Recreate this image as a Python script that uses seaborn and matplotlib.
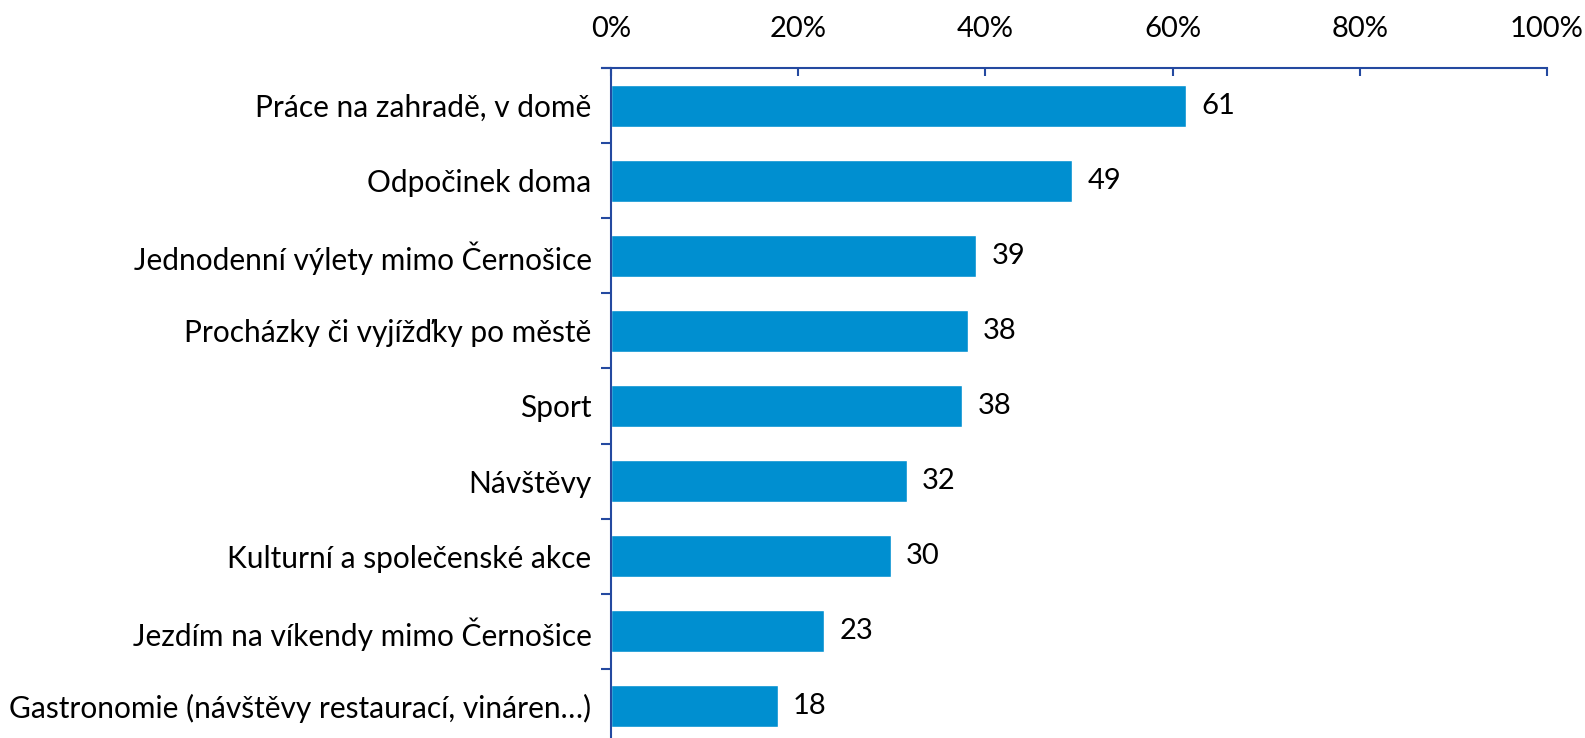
import numpy as np
import pandas as pd
import matplotlib
matplotlib.use("Agg")
import matplotlib.pyplot as plt
import seaborn as sns
from matplotlib.ticker import FixedLocator, PercentFormatter

# Données
categories = [
    "Práce na zahradě, v domě",
    "Odpočinek doma",
    "Jednodenní výlety mimo Černošice",
    "Procházky či vyjížďky po městě",
    "Sport",
    "Návštěvy",
    "Kulturní a společenské akce",
    "Jezdím na víkendy mimo Černošice",
    "Gastronomie (návštěvy restaurací, vináren…)",
]
values = [61.4, 49.3, 39.0, 38.1, 37.5, 31.6, 29.9, 22.8, 17.8]
x_ticks = [0, 20, 40, 60, 80, 100]

bar_color = "#008FD0"
axis_color = "#2449A0"

sns.set_style("white")
plt.rcParams['font.family'] = ['Lato', 'DejaVu Sans']
plt.rcParams['text.color'] = 'black'
plt.rcParams['xtick.labelcolor'] = 'black'
plt.rcParams['ytick.labelcolor'] = 'black'

df = pd.DataFrame({"cat": categories, "val": values})

fig = plt.figure(figsize=(15.85, 7.38), dpi=100)
ax = fig.add_axes([602 / 1585, -6 / 738, (1547 - 602) / 1585, 676 / 738])

sns.barplot(data=df, x="val", y="cat", color=bar_color, saturation=1,
            width=0.56, ax=ax)

# Étiquettes de valeur
ax.bar_label(ax.containers[0], labels=[f"{round(v)}" for v in values],
             padding=11, fontsize=21, color="black")

ax.set_xlim(-0.96, 100)
ax.set_ylim(len(categories) - 0.5, -0.5)
ax.set_xlabel("")
ax.set_ylabel("")

# Axe X en haut
ax.xaxis.set_ticks_position("top")
ax.xaxis.set_label_position("top")
ax.set_xticks(x_ticks)
ax.xaxis.set_major_formatter(PercentFormatter(decimals=0))
ax.tick_params(axis="x", direction="in", length=6, width=1.5, color=axis_color,
               pad=19, labelsize=21, top=True, bottom=False)

# Axe Y : graduations entre les catégories
ax.spines["left"].set_position(("data", 0))
ax.yaxis.set_minor_locator(FixedLocator(np.arange(-0.5, len(categories), 1)))
ax.tick_params(axis="y", which="major", length=0, pad=14, labelsize=21.5)
ax.tick_params(axis="y", which="minor", direction="out", length=7, width=1.5,
               color=axis_color, left=True)

for side in ["right", "bottom"]:
    ax.spines[side].set_visible(False)
for side in ["left", "top"]:
    ax.spines[side].set_color(axis_color)
    ax.spines[side].set_linewidth(1.5)

fig.savefig("out.png", dpi=100)
